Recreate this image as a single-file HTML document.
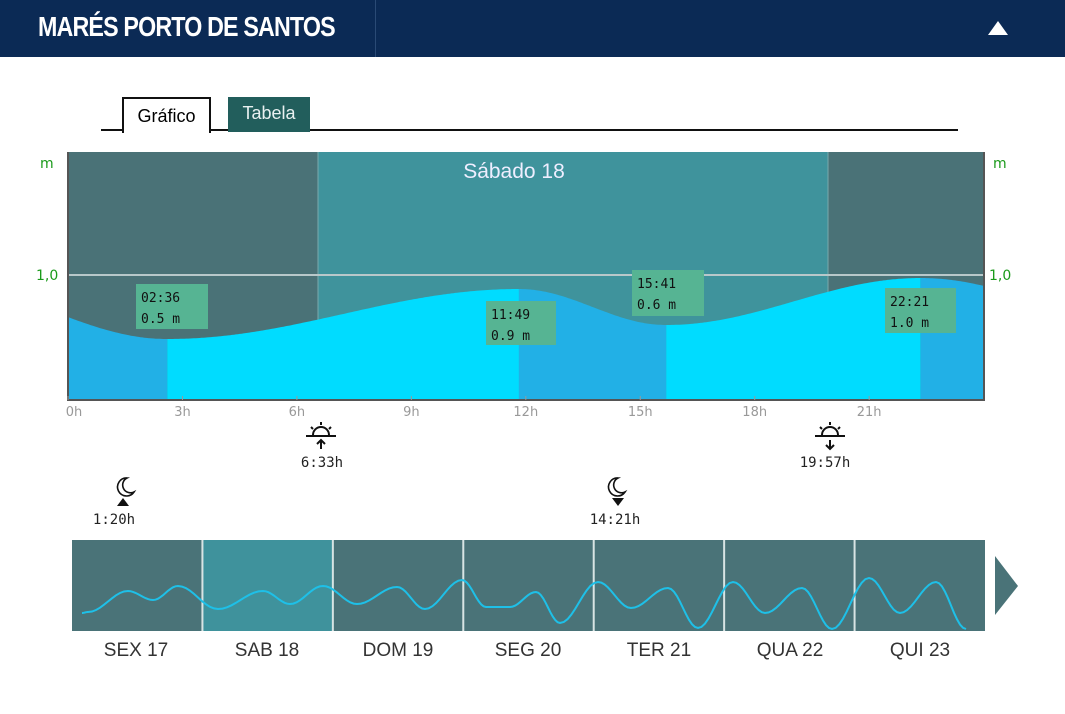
<!DOCTYPE html>
<html><head><meta charset="utf-8"><style>
body{margin:0;width:1065px;height:714px;background:#fff;font-family:"Liberation Sans",sans-serif;position:relative;overflow:hidden}
.hdr{position:absolute;left:0;top:0;width:1065px;height:57px;background:#0b2a55}
.hdr .t{position:absolute;left:38px;top:11px;color:#fff;font-weight:bold;font-size:28px;letter-spacing:-1px;transform:scaleX(0.83);transform-origin:left;font-family:"Liberation Sans Narrow","Liberation Sans",sans-serif}
.hdr .sep{position:absolute;left:375px;top:0;width:1px;height:57px;background:#2a4a75}
.tabline{position:absolute;left:101px;top:129px;width:857px;height:2px;background:#111}
.tab1{position:absolute;left:122px;top:97px;width:89px;border:2px solid #111;border-bottom:none;background:#fff;font-size:18px;text-align:center;line-height:34px;box-sizing:border-box;height:36px}
.tab2{position:absolute;left:228px;top:97px;width:82px;height:35px;background:#225e5c;color:#e8f0f0;font-size:18px;text-align:center;line-height:32px}
svg{position:absolute;left:0;top:0}
</style></head><body>
<div class="hdr"><div class="t">MARÉS PORTO DE SANTOS</div><div class="sep"></div></div>
<div class="tabline"></div>
<div class="tab1">Gráfico</div>
<div class="tab2">Tabela</div>
<svg id="s" width="1065" height="714" font-family="Liberation Sans, sans-serif">
<polygon points="988,35 1008,35 998,21" fill="#fff"/>
<rect x="68" y="152" width="916" height="248" fill="#4a7277"/>
<rect x="318" y="152" width="510" height="248" fill="#3f939c"/>
<line x1="318" y1="152" x2="318" y2="320" stroke="#7aa9ad" stroke-width="1"/>
<line x1="828" y1="152" x2="828" y2="300" stroke="#7aa9ad" stroke-width="1"/>
<text x="514" y="178" fill="#eef" font-size="21" text-anchor="middle">Sábado 18</text>
<g id="tide"></g>
<line x1="68" y1="275" x2="984" y2="275" stroke="#b8c8ca" stroke-width="2"/>
<path d="M68 152 V400 H984 V152" fill="none" stroke="#555" stroke-width="2"/>
<g font-size="14" fill="#1a9a1a" font-family="DejaVu Sans, sans-serif"><text x="40" y="168">m</text><text x="36" y="280">1,0</text><text x="993" y="168">m</text><text x="989" y="280">1,0</text></g>
<g id="ticks" font-size="13" fill="#999" text-anchor="middle" font-family="DejaVu Sans, sans-serif"></g>
<g font-size="13" font-family="DejaVu Sans Mono, Liberation Mono, monospace" fill="#111">
<rect x="136" y="284" width="72" height="45" fill="#56b493"/><text x="141" y="302">02:36</text><text x="141" y="323">0.5 m</text>
<rect x="486" y="301" width="70" height="44" fill="#56b493"/><text x="491" y="319">11:49</text><text x="491" y="340">0.9 m</text>
<rect x="632" y="270" width="72" height="46" fill="#56b493"/><text x="637" y="288">15:41</text><text x="637" y="309">0.6 m</text>
<rect x="885" y="288" width="71" height="45" fill="#56b493"/><text x="890" y="306">22:21</text><text x="890" y="327">1.0 m</text>
</g>
<g stroke="#111" stroke-width="2" fill="none">
<path d="M306 436 H336"/><path d="M313 435 a8 8 0 0 1 16 0" /><path d="M321 422 v3 M311 427 l2 2 M331 427 l-2 2"/><path d="M321 449 v-9 M317 444 l4 -4 l4 4"/>
<path d="M815 436 H845"/><path d="M822 435 a8 8 0 0 1 16 0"/><path d="M830 422 v3 M820 427 l2 2 M840 427 l-2 2"/><path d="M830 440 v9 M826 445 l4 4 l4 -4"/>
</g>
<g stroke="#111" stroke-width="1.6" fill="none">
<path d="M127 478 a9 9 0 1 0 7 14 a7 7 0 0 1 -7 -14z"/>
<path d="M618 478 a9 9 0 1 0 7 14 a7 7 0 0 1 -7 -14z"/>
</g>
<polygon points="117,506 129,506 123,498" fill="#111"/>
<polygon points="612,498 624,498 618,506" fill="#111"/>
<g font-size="14" font-family="DejaVu Sans Mono, Liberation Mono, monospace" fill="#222" text-anchor="middle">
<text x="322" y="467">6:33h</text><text x="825" y="467">19:57h</text><text x="114" y="524">1:20h</text><text x="615" y="524">14:21h</text></g>
<g id="mini"></g>
<polygon points="995,556 1018,586 995,615" fill="#4a7378"/>
<g font-size="19" fill="#333" text-anchor="middle">
<text x="136" y="656">SEX 17</text><text x="267" y="656">SAB 18</text><text x="398" y="656">DOM 19</text><text x="528" y="656">SEG 20</text><text x="659" y="656">TER 21</text><text x="790" y="656">QUA 22</text><text x="920" y="656">QUI 23</text></g>
</svg>
<script>
var NS="http://www.w3.org/2000/svg";
function el(p,t,a){var e=document.createElementNS(NS,t);for(var k in a)e.setAttribute(k,a[k]);document.getElementById(p).appendChild(e);return e;}
var X=function(h){return 68+h*38.15};
var ex=[[-3.5,282],[2.6,339],[11.82,289],[15.68,325],[22.35,278],[28.5,325]];
function yAt(h){for(var i=0;i<ex.length-1;i++){var a=ex[i],b=ex[i+1];if(h>=a[0]&&h<=b[0]){var t=(h-a[0])/(b[0]-a[0]);return a[1]+(b[1]-a[1])*(1-Math.cos(Math.PI*t))/2;}}return 300;}
function seg(h0,h1,c){var d="M"+X(h0)+" 400";for(var h=h0;h<=h1+1e-6;h+=0.05)d+=" L"+X(h).toFixed(1)+" "+yAt(h).toFixed(1);d+=" L"+X(h1)+" "+yAt(h1).toFixed(1)+" L"+X(h1)+" 400Z";el("tide","path",{d:d,fill:c});}
seg(0,2.6,"#22b0e6");seg(2.6,11.82,"#00dcff");seg(11.82,15.68,"#22b0e6");seg(15.68,22.35,"#00dcff");seg(22.35,24,"#22b0e6");
for(var h=0;h<=21;h+=3){el("ticks","line",{x1:X(h),y1:396,x2:X(h),y2:400,stroke:"#999"});var t=el("ticks","text",{x:X(h)+(h==0?6:0),y:416});t.textContent=h+"h";}
var cw=(985-72)/7;
for(var i=0;i<7;i++){el("mini","rect",{x:72+i*cw,y:540,width:cw,height:91,fill:i==1?"#3f929c":"#4a7378"});if(i>0)el("mini","line",{x1:72+i*cw,y1:540,x2:72+i*cw,y2:631,stroke:"#d8e4e4","stroke-width":2});}
var P=[[82,613],[88,612],[128,591],[153,600],[178,586],[218,609],[263,591],[290,604],[323,586],[357,604],[397,587],[425,609],[462,580],[486,607],[510,607],[536,592],[560,623],[598,582],[631,608],[668,588],[698,628],[733,582],[765,613],[802,588],[832,629],[869,578],[900,613],[936,582],[966,629]];
var d="M"+P[0][0]+" "+P[0][1];
for(var i=0;i<P.length-1;i++){var a=P[i],b=P[i+1];for(var t=0.1;t<=1.0001;t+=0.1){var x=a[0]+(b[0]-a[0])*t,y=a[1]+(b[1]-a[1])*(1-Math.cos(Math.PI*t))/2;d+=" L"+x.toFixed(1)+" "+y.toFixed(1);}}
el("mini","path",{d:d,fill:"none",stroke:"#1ec0e8","stroke-width":2});
</script>
</body></html>
